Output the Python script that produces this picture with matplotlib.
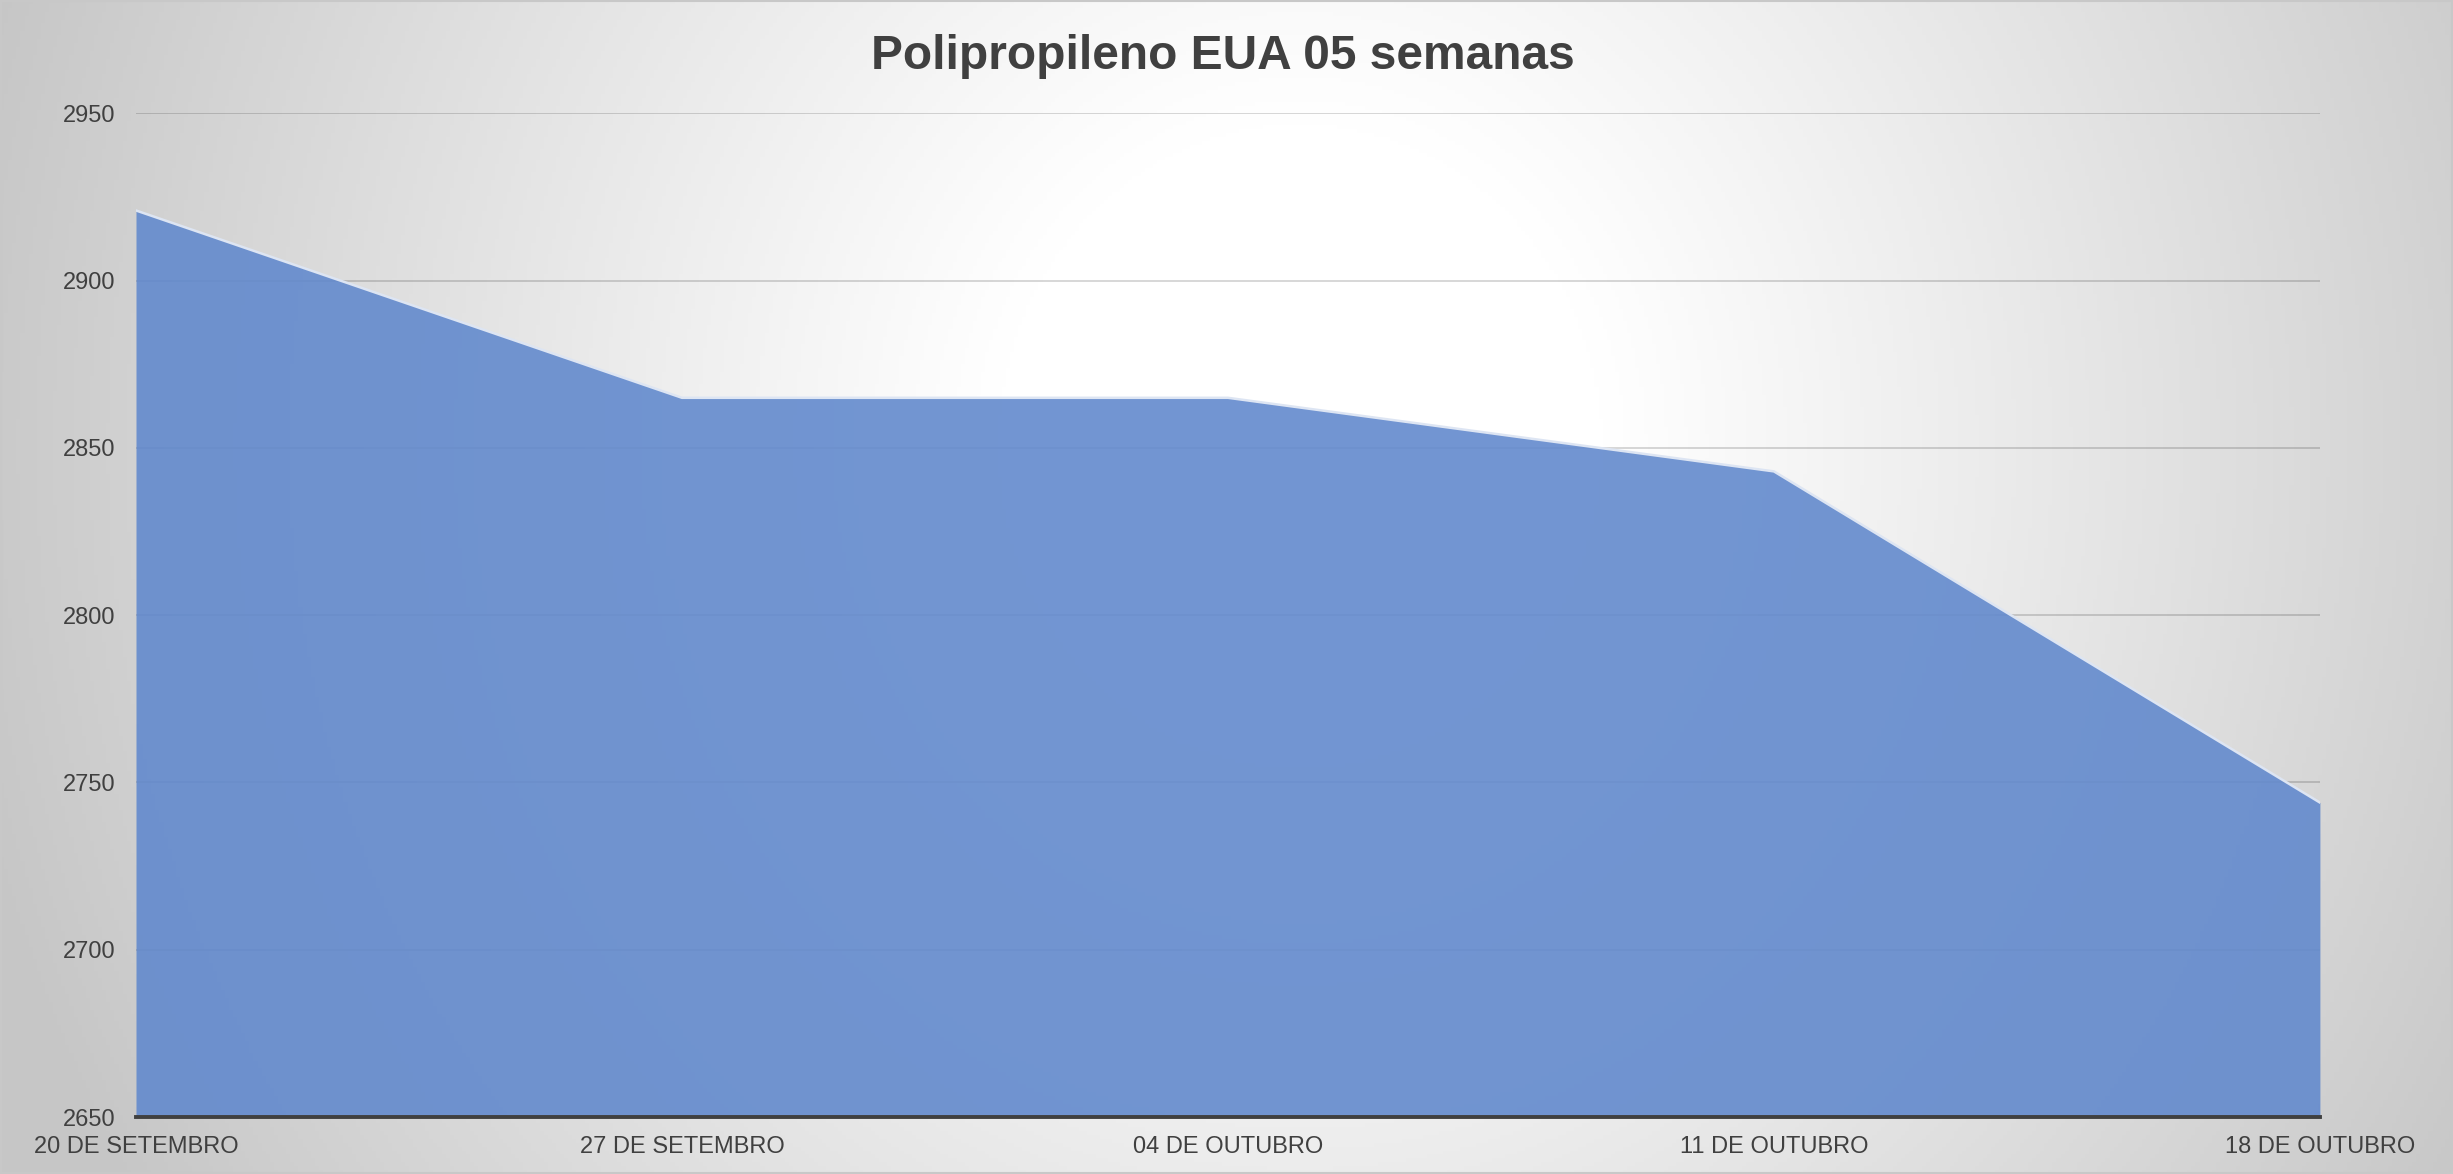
import numpy as np
import matplotlib.pyplot as plt
from matplotlib.patches import Rectangle

plt.rcParams['font.family'] = ['Liberation Sans', 'DejaVu Sans']

# dados
semanas = ['20 DE SETEMBRO', '27 DE SETEMBRO', '04 DE OUTUBRO', '11 DE OUTUBRO', '18 DE OUTUBRO']
precos = [2921, 2865, 2865, 2843, 2744]
y_ticks = [2650, 2700, 2750, 2800, 2850, 2900, 2950]
titulo = 'Polipropileno EUA 05 semanas'

fig = plt.figure(figsize=(24.53, 11.74), dpi=100)

# fundo com gradiente radial (branco no centro, cinza nas bordas)
bg = fig.add_axes([0, 0, 1, 1], zorder=-10)
gx, gy = np.meshgrid(np.linspace(0, 1, 600), np.linspace(0, 1, 300))
d = np.sqrt(((gx - 0.53) / 0.56) ** 2 + ((gy - 0.62) / 1.25) ** 2)
val = (255 - 57 * np.clip((d - 0.22) / 0.78, 0, 1) ** 1.05) / 255
bg.imshow(np.dstack([val, val, val]), origin='lower', extent=[0, 1, 0, 1], aspect='auto')
bg.set_xlim(0, 1)
bg.set_ylim(0, 1)
bg.axis('off')
fig.patches.append(Rectangle((0.0005, 0.001), 0.999, 0.998, transform=fig.transFigure,
                             fill=False, edgecolor='#c8c8c8', linewidth=1.5))

ax = fig.add_axes([0.05544, 0.04855, 0.8903, 0.8548])
ax.patch.set_alpha(0)
x = np.arange(len(semanas))

for yv in y_ticks[1:]:
    ax.axhline(yv, color='black', alpha=0.17, linewidth=1.3, zorder=1)

ax.fill_between(x, precos, y_ticks[0], color='#638ACD', alpha=0.9, linewidth=0, zorder=2)
ax.plot(x, precos, color='#dde5f3', linewidth=1.8, zorder=3)
ax.axhline(y_ticks[0], color='#404040', linewidth=2.8, zorder=4, clip_on=False)

ax.set_xlim(0, len(semanas) - 1)
ax.set_ylim(y_ticks[0], y_ticks[-1])
ax.set_xticks(x)
ax.set_xticklabels(semanas)
ax.set_yticks(y_ticks)
ax.tick_params(axis='both', length=0, labelsize=17, labelcolor='#404040')
ax.tick_params(axis='x', pad=14)
ax.tick_params(axis='y', pad=15)
for s in ax.spines.values():
    s.set_visible(False)

fig.text(0.4987, 0.952, titulo, ha='center', va='center', fontsize=34.5,
         fontweight='bold', color='#404040')

fig.savefig('out.png', dpi=100)
